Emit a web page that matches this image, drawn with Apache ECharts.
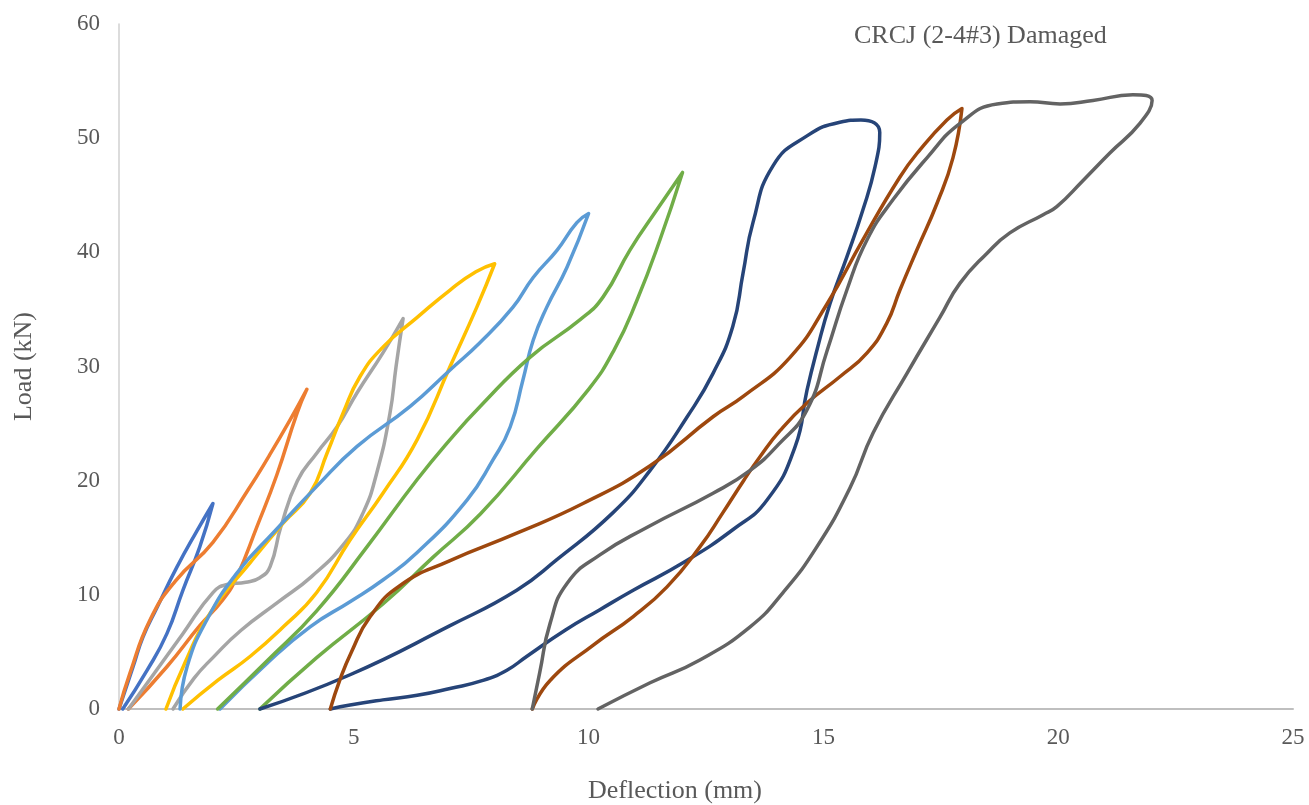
<!DOCTYPE html>
<html>
<head>
<meta charset="utf-8">
<script src="https://cdn.jsdelivr.net/npm/echarts@6/dist/echarts.min.js"></script>
<style>
  html, body { margin: 0; padding: 0; background: #ffffff; }
  #chart { width: 1309px; height: 805px; }
</style>
</head>
<body>
<div id="chart"></div>
<script>
// Load–deflection cycles, each cycle as [deflection (mm), load (kN)] pairs:
// loading branch up to the peak, then unloading back to the residual deflection.
const cycle1 = [[0,0],[0.3,3.7],[0.51,6.3],[0.81,8.9],[1.23,12.4],[1.66,15.6],[2.0,18.0],
  [1.72,14.2],[1.36,10.4],[1.02,6.6],[0.6,3.4],[0.08,0]];
const cycle2 = [[0,0],[0.23,3.1],[0.66,7.8],[1.2,11.2],[2.0,14.6],[2.75,19.2],[3.2,22.2],[3.64,25.3],[4.0,28.0],
  [3.79,25.9],[3.36,20.5],[2.94,16.0],[2.5,11.5],[2.2,9.5],[1.72,7.3],[1.02,3.7],[0.2,0]];
const cycle3 = [[0.2,0],[0.66,2.6],[1.36,6.6],[2.0,10.2],[2.3,10.9],[2.7,11.1],[3.0,11.5],[3.22,12.5],[3.45,16.0],[3.8,20.0],
  [4.21,22.4],[4.64,24.7],[5.07,27.7],[5.62,31.2],[6.05,34.2],
  [5.9,30.0],[5.77,25.9],[5.49,20.7],[5.2,17.2],[4.8,14.5],[4.1,11.6],[3.4,9.4],[2.6,6.9],[2.0,4.5],[1.6,2.7],[1.15,0]];
const cycle4 = [[1.0,0],[1.4,4.0],[1.94,8.4],[2.79,12.8],[3.5,16.3],[4.07,18.9],[4.43,22.4],[4.77,25.9],[5.13,29.1],
  [5.62,31.7],[6.35,34.3],[7.05,36.7],[7.6,38.3],[8.0,39.0],
  [7.62,35.2],[7.05,30.0],[6.35,23.6],[5.62,18.9],[4.92,14.8],[4.21,10.2],[3.5,7.2],[2.79,4.6],[2.1,2.5],[1.36,0]];
const cycle5 = [[1.3,0],[1.45,3.7],[1.87,7.8],[2.51,11.9],[3.3,15.5],[4.21,19.5],[5.07,23.0],[6.2,26.5],[7.05,29.7],
  [7.69,32.1],[8.39,35.2],[8.82,37.8],[9.33,40.2],[9.75,42.6],[10.0,43.4],
  [9.54,38.7],[9.11,35.2],[8.82,32.3],[8.6,28.8],[8.33,24.7],[7.96,21.8],[7.41,18.3],[6.35,13.7],[5.62,11.3],
  [4.92,9.4],[4.07,7.2],[3.15,4.0],[2.15,0]];
const cycle6 = [[2.1,0],[3.15,4.2],[4.21,8.6],[5.28,14.2],[6.35,20.1],[7.05,23.6],[7.69,26.5],[8.75,30.8],[9.82,34.1],
  [10.31,36.1],[10.88,40.2],[11.45,43.7],[12.0,47.0],
  [11.52,41.1],[11.03,35.8],[10.55,31.5],[10.0,28.0],[8.9,22.8],[7.7,17.1],[6.69,13.3],[5.62,9.2],[4.21,4.5],[3.0,0]];
const cycle7 = [[3.0,0],[4.92,3.0],[7.05,7.3],[8.47,10.4],[9.33,13.1],[10.52,17.2],[11.31,20.9],[12.1,25.6],[12.65,29.4],
  [13.07,33.5],[13.29,38.2],[13.5,42.6],[13.93,47.6],[14.65,50.2],[15.35,51.4],[15.8,51.6],[16.2,50.5],
  [16.1,47.5],[15.84,43.7],[15.5,39.6],[15.14,35.5],[14.86,31.4],[14.65,27.9],[14.4,23.0],[13.8,18.3],[13.07,15.7],
  [12.01,12.8],[10.95,10.4],[10.24,8.7],[9.5,6.9],[8.68,4.6],[8.26,3.4],[7.75,2.5],[7.05,1.8],[6.35,1.2],[5.62,0.8],
  [4.92,0.35],[4.5,0]];
const cycle8 = [[4.5,0],[4.7,2.5],[4.95,5.0],[5.35,8.1],[5.98,10.8],[7.05,13.0],[8.47,15.4],[9.88,18.0],[11.31,21.3],
  [12.65,25.6],[13.3,27.4],[14.29,30.8],[15.08,35.5],[15.84,41.1],[16.63,46.6],[17.06,49.0],[17.63,51.6],[17.95,52.6],
  [17.76,48.3],[17.42,44.3],[16.99,40.2],[16.63,36.7],[16.35,33.8],[15.93,31.2],[15.35,29.1],[14.65,26.8],[14.08,24.4],
  [13.65,22.1],[13.3,20.0],[12.86,17.2],[12.37,14.2],[11.67,10.7],[10.95,8.1],[10.1,5.6],[9.18,2.5],[8.8,0]];
const cycle9 = [[8.8,0],[8.96,3.2],[9.18,7.5],[9.54,11.0],[10.24,13.5],[11.24,15.9],[12.65,18.9],[13.44,20.9],[14.05,23.2],
  [14.65,26.2],[15.08,31.4],[15.5,36.7],[15.93,41.1],[16.48,44.6],[17.21,48.3],[17.91,51.3],[18.7,53.0],[19.4,53.2],
  [20.04,53.0],[20.74,53.3],[21.59,53.8],[22.0,53.3],
  [21.74,51.3],[21.1,48.7],[20.53,46.3],[19.97,44.0],[19.68,43.3],[18.97,41.7],[18.48,39.9],[17.91,37.3],[17.48,34.3],
  [16.78,29.4],[16.06,24.2],[15.57,19.4],[14.86,14.2],[14.14,10.2],[13.44,7.2],[12.37,4.3],[11.31,2.3],[10.2,0]];

const cycles = [cycle1, cycle2, cycle3, cycle4, cycle5, cycle6, cycle7, cycle8, cycle9];
const cycleColors = ['#4472C4', '#ED7D31', '#A5A5A5', '#FFC000', '#5B9BD5', '#70AD47', '#264478', '#9E480E', '#636363'];

const xTicks = { min: 0, max: 25, interval: 5 };
const yTicks = { min: 0, max: 60, interval: 10 };

const FONT = '"Liberation Serif", "Times New Roman", serif';
const TEXT = '#595959';

const chart = echarts.init(document.getElementById('chart'), null, { renderer: 'canvas' });
chart.setOption({
  animation: false,
  backgroundColor: '#ffffff',
  title: {
    text: 'CRCJ (2-4#3) Damaged',
    left: 849,
    top: 18,
    textStyle: { fontFamily: FONT, fontSize: 26, fontWeight: 'normal', color: TEXT }
  },
  grid: { left: 119, right: 16, top: 24, bottom: 96, containLabel: false, outerBoundsMode: 'none' },
  xAxis: {
    type: 'value',
    min: xTicks.min, max: xTicks.max, interval: xTicks.interval,
    name: 'Deflection (mm)',
    nameLocation: 'middle',
    nameGap: 69,
    // the axis title sits a little left of the plot centre
    nameTextStyle: { fontFamily: FONT, fontSize: 26, color: TEXT, padding: [0, 62, 0, 0] },
    axisLine: { show: true, onZero: false, lineStyle: { color: '#BFBFBF', width: 2 } },
    axisTick: { show: false },
    splitLine: { show: false },
    axisLabel: { fontFamily: FONT, fontSize: 23, color: TEXT, margin: 17 }
  },
  yAxis: {
    type: 'value',
    min: yTicks.min, max: yTicks.max, interval: yTicks.interval,
    name: 'Load (kN)',
    nameLocation: 'middle',
    nameGap: 82,
    nameTextStyle: { fontFamily: FONT, fontSize: 26, color: TEXT },
    axisLine: { show: true, lineStyle: { color: '#D0D0D0', width: 1.5 } },
    axisTick: { show: false },
    splitLine: { show: false },
    axisLabel: { fontFamily: FONT, fontSize: 23, color: TEXT, margin: 19 }
  },
  series: cycles.map((data, i) => ({
    type: 'line',
    name: 'Cycle ' + (i + 1),
    data: data,
    smooth: 0.5,
    symbol: 'none',
    clip: false,
    lineStyle: { color: cycleColors[i], width: 3.5, cap: 'round', join: 'round' }
  }))
});
</script>
</body>
</html>
